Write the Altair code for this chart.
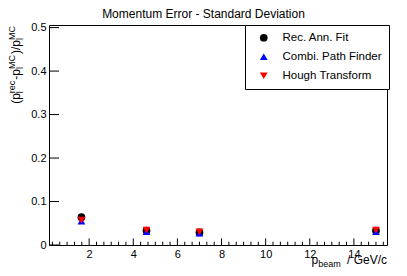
import altair as alt
import pandas as pd

# ---------------- data ----------------
series = ["Rec. Ann. Fit", "Combi. Path Finder", "Hough Transform"]
p_beam = [1.65, 4.6, 7.0, 15.0]
rec_fit = [0.064, 0.033, 0.029, 0.033]
combi = [0.055, 0.031, 0.027, 0.031]
hough = [0.057, 0.034, 0.030, 0.034]
rec_err = [0.002, 0.001, 0.001, 0.001]
combi_err = [0.002, 0.001, 0.001, 0.001]
hough_err = [0.006, 0.002, 0.002, 0.002]
x_major = [2, 4, 6, 8, 10, 12, 14]
x_minor = [round(i / 3, 4) for i in range(1, 47) if i % 6 != 0]
y_major = [0, 0.1, 0.2, 0.3, 0.4, 0.5]
title_text = "Momentum Error - Standard Deviation"

W, H = 338, 220
FONT = "Liberation Sans"

rows = []
for name, vals, errs in [(series[0], rec_fit, rec_err),
                         (series[1], combi, combi_err),
                         (series[2], hough, hough_err)]:
    for xv, yv, ev in zip(p_beam, vals, errs):
        rows.append({"series": name, "p": xv, "v": yv, "lo": yv - ev, "hi": yv + ev})
df = pd.DataFrame(rows)

xscale = alt.Scale(domain=[0.18, 15.5], nice=False, zero=False)
yscale = alt.Scale(domain=[0, 0.506], nice=False, zero=False)
cscale = alt.Scale(domain=series, range=["black", "blue", "red"])
sscale = alt.Scale(domain=series, range=["circle", "triangle-up", "triangle-down"])

xaxis = alt.Axis(values=x_major, ticks=False, tickSize=0, domain=False, grid=False,
                 labelFont=FONT, labelFontSize=11, labelColor="black",
                 labelPadding=3, format="d", title=None)
yaxis = alt.Axis(values=y_major, ticks=False, tickSize=0, domain=False, grid=False,
                 labelFont=FONT, labelFontSize=11, labelColor="black",
                 labelPadding=3, format=".1~f", title=None)
legend = alt.Legend(title=None, orient="none", legendX=196, legendY=0, direction="vertical")

points = alt.Chart(df).mark_point(filled=True, size=60, opacity=1).encode(
    x=alt.X("p:Q", scale=xscale, axis=xaxis, title=None),
    y=alt.Y("v:Q", scale=yscale, axis=yaxis, title=None),
    color=alt.Color("series:N", scale=cscale, legend=legend),
    shape=alt.Shape("series:N", scale=sscale, legend=legend),
)

errbars = alt.Chart(df).mark_rule(strokeWidth=1).encode(
    x=alt.X("p:Q", scale=xscale, axis=xaxis, title=None),
    y=alt.Y("lo:Q", scale=yscale, axis=yaxis, title=None),
    y2="hi:Q",
    color=alt.Color("series:N", scale=cscale, legend=legend),
)

xmaj = alt.Chart(pd.DataFrame({"t": x_major})).mark_rule(color="black", strokeWidth=1).encode(
    x=alt.X("t:Q", scale=xscale, axis=xaxis, title=None), y=alt.value(H), y2=alt.value(H - 6.6))
xmin = alt.Chart(pd.DataFrame({"t": x_minor})).mark_rule(color="black", strokeWidth=1).encode(
    x=alt.X("t:Q", scale=xscale, axis=xaxis, title=None), y=alt.value(H), y2=alt.value(H - 3.3))
ymaj = alt.Chart(pd.DataFrame({"t": y_major})).mark_rule(color="black", strokeWidth=1).encode(
    y=alt.Y("t:Q", scale=yscale, axis=yaxis, title=None), x=alt.value(0), x2=alt.value(10))

one = pd.DataFrame({"a": [0]})
title = alt.Chart(one).mark_text(text=title_text, font=FONT, fontSize=12, align="center",
                                 baseline="alphabetic", color="black").encode(
    x=alt.value(154.5), y=alt.value(-7.5))

# text metrics (Arial / Liberation Sans em widths)
EM = {'(': .333, 'p': .556, '-': .333, ')': .333, '/': .278, 'r': .333, 'e': .556,
      'c': .5, 'M': .833, 'C': .722, 'l': .222, 'b': .556, 'a': .556, 'm': .833,
      ' ': .278, 'G': .778, 'V': .667}


def tw(s, size):
    return sum(EM[ch] for ch in s) * size


def build(groups, main=12, small=9, sub_dy=3.5, sup_dy=-4.5, gap=1):
    segs = []
    pos = 0.0
    for g in groups:
        txt, sub, sup = g
        lead = len(txt) - len(txt.lstrip(" "))
        pos += tw(" " * lead, main)
        txt = txt.lstrip(" ")
        segs.append((txt, main, pos, 0))
        pos += tw(txt, main)
        if sub or sup:
            w = 0
            if sub:
                segs.append((sub, small, pos, sub_dy))
                w = max(w, tw(sub, small))
            if sup:
                segs.append((sup, small, pos, sup_dy))
                w = max(w, tw(sup, small))
            pos += w + gap
    return segs, pos


layers = [errbars, points, xmaj, xmin, ymaj, title]

# y title: (p_l^rec-p_l^MC)/p_l^MC, rotated, ending at frame top
ygroups = [("(", None, None), ("p", "l", "rec"), ("-", None, None), ("p", "l", "MC"),
           (")", None, None), ("/", None, None), ("p", "l", "MC")]
ysegs, ylen = build(ygroups)
for txt, fs, pos, dy in ysegs:
    layers.append(alt.Chart(one).mark_text(text=txt, font=FONT, fontSize=fs, angle=270,
                                           align="left", baseline="alphabetic",
                                           dx=pos, dy=dy, color="black").encode(
        x=alt.value(-29.5), y=alt.value(ylen)))

# x title: p_beam / GeV/c, ending at frame right
xgroups = [("p", "beam", None), (" / GeV/c", None, None)]
xsegs, xlen = build(xgroups, sub_dy=3, gap=3)
for txt, fs, pos, dy in xsegs:
    layers.append(alt.Chart(one).mark_text(text=txt, font=FONT, fontSize=fs,
                                           align="left", baseline="alphabetic",
                                           dx=pos, dy=dy, color="black").encode(
        x=alt.value(W - xlen), y=alt.value(H + 18.5)))

chart = alt.layer(*layers).resolve_scale(x="shared", y="shared").properties(
    width=W, height=H,
    autosize=alt.AutoSizeParams(type="none"),
    padding={"left": 41, "top": 17, "right": 12, "bottom": 23},
    background="white",
).configure_view(stroke="black", strokeWidth=1).configure_legend(
    strokeColor="black", fillColor="white", padding=7, symbolOffset=6, labelOffset=13,
    rowPadding=6, labelFont=FONT, labelFontSize=11.5, labelColor="black", symbolSize=60,
    symbolStrokeWidth=0, cornerRadius=0,
)

chart.save("out.html", embed_options={"renderer": "svg", "actions": False})
